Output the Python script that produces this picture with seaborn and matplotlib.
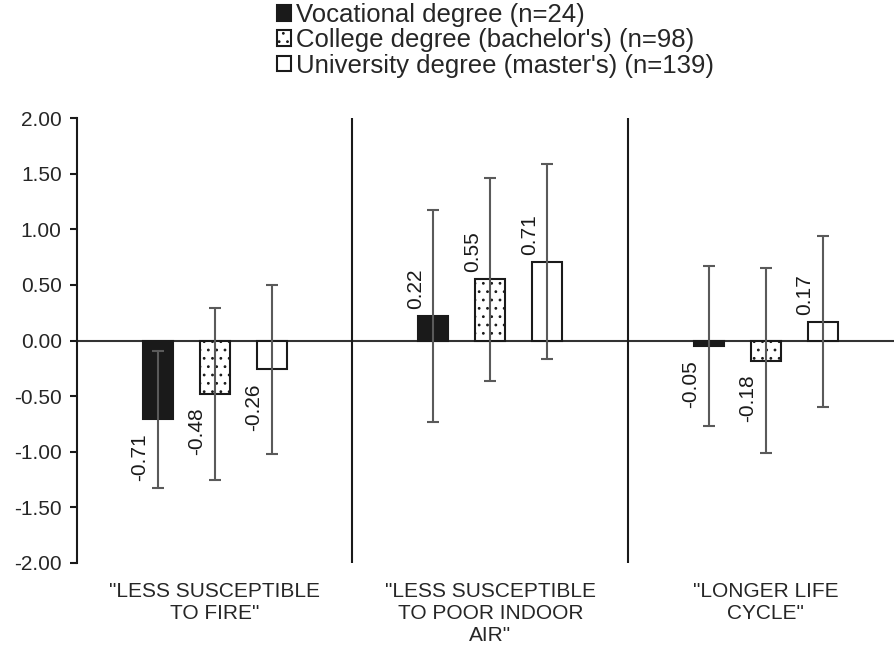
import numpy as np
import pandas as pd
import seaborn as sns
import matplotlib.pyplot as plt

categories = ['"LESS SUSCEPTIBLE\nTO FIRE"',
              '"LESS SUSCEPTIBLE\nTO POOR INDOOR\nAIR"',
              '"LONGER LIFE\nCYCLE"']
groups = ["Vocational degree (n=24)",
          "College degree (bachelor's) (n=98)",
          "University degree (master's) (n=139)"]
vocational = [-0.71, 0.22, -0.05]
college = [-0.48, 0.55, -0.18]
university = [-0.26, 0.71, 0.17]
vocational_sd = [0.62, 0.95, 0.72]
college_sd = [0.77, 0.91, 0.83]
university_sd = [0.76, 0.88, 0.77]

df = pd.DataFrame({
    "category": categories * 3,
    "group": np.repeat(groups, 3),
    "value": vocational + college + university,
})
sds = [vocational_sd, college_sd, university_sd]

sns.set_theme(style="white")
plt.rcParams["font.family"] = ["Liberation Sans", "DejaVu Sans"]
plt.rcParams["hatch.color"] = "#444444"
plt.rcParams["hatch.linewidth"] = 0.8

fig = plt.figure(figsize=(8.95, 6.46), dpi=100)
ax = fig.add_axes([0.086, 0.1285, 0.914, 0.6888])

sns.barplot(data=df, x="category", y="value", hue="group",
            palette=["#1a1a1a", "white", "white"], saturation=1,
            width=0.62, gap=0.47, errorbar=None,
            edgecolor="#1a1a1a", linewidth=1.5, ax=ax)
ax.legend_.remove()

for p in ax.containers[1]:
    p.set_hatch("..")

ax.axhline(0, color="#333333", lw=1.5, zorder=0.5)
for b in [0.5, 1.5]:
    ax.axvline(b, color="#1a1a1a", lw=1.5)

for cont, sd in zip(ax.containers, sds):
    xs = [p.get_x() + p.get_width() / 2 for p in cont]
    vals = cont.datavalues
    ax.errorbar(xs, vals, yerr=sd, fmt="none", ecolor="#5a5a5a",
                elinewidth=1.5, capsize=4, capthick=1.5, zorder=3)
    for x, v in zip(xs, vals):
        ax.annotate(f"{v:.2f}", xy=(x, v), xytext=(-13, 5 if v > 0 else -10),
                    textcoords="offset points", rotation=90, ha="center",
                    va="bottom" if v > 0 else "top", fontsize=15, color="#1a1a1a")

ax.set_ylim(-2, 2)
ax.set_yticks(np.arange(-2, 2.01, 0.5))
ax.set_yticklabels([f"{t:.2f}" for t in np.arange(-2, 2.01, 0.5)], fontsize=15)
ax.set_xlim(-0.5, 2.469)
ax.set_xlabel("")
ax.set_ylabel("")
ax.tick_params(axis="x", length=0, pad=14, labelsize=15)
ax.tick_params(axis="y", left=True, length=5, width=1.5, color="#1a1a1a", pad=6)
for s in ["top", "right", "bottom"]:
    ax.spines[s].set_visible(False)
ax.spines["left"].set_color("#1a1a1a")
ax.spines["left"].set_linewidth(1.5)

fig.legend(handles=ax.containers, labels=groups, loc="upper left",
           bbox_to_anchor=(277 / 895, 1 - 3 / 646), frameon=False, fontsize=18.5,
           handlelength=0.55, handleheight=0.55, handletextpad=0.2,
           labelspacing=0.05, borderpad=0, borderaxespad=0)

fig.savefig("out.png", dpi=100)
